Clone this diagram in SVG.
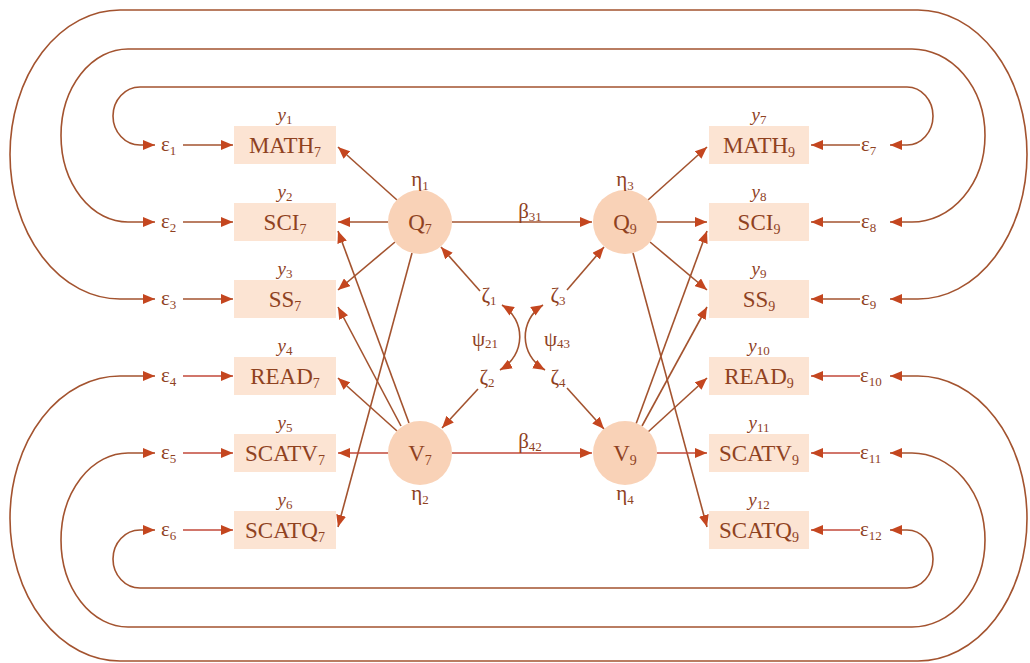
<svg xmlns="http://www.w3.org/2000/svg" width="1030" height="663" viewBox="0 0 1030 663">
<style>
.bg{fill:#ffffff}
.box{fill:#fce4d3}
.lat{fill:#f9d2b7}
.ln{fill:none;stroke:#a3532f;stroke-width:1.6}
.lr{fill:none;stroke:#c2493a;stroke-width:1.6}
.t{font-family:"Liberation Serif",serif;fill:#8f421f}
.lbl{font-size:23px;text-anchor:middle}
.yl{font-size:19px;font-style:italic;text-anchor:middle}
.gr{font-size:21px}
.mid{text-anchor:middle}
.s{font-size:14px;font-style:normal}
.ss{font-size:13px;font-style:normal}
</style>
<defs>
<marker id="ah" viewBox="0 0 12 10" refX="12" refY="5" markerWidth="12" markerHeight="10" markerUnits="userSpaceOnUse" orient="auto-start-reverse">
<path d="M0,0 L12,5 L0,10 Z" fill="#c4461f"/>
</marker>
</defs>
<rect class="bg" width="1030" height="663"/>

<g id="connectors">
<path class="ln" marker-start="url(#ah)" marker-end="url(#ah)" d="M155 145 L140 145 A27 29 0 0 1 140 87 L907 87 A26 29 0 0 1 907 145 L890 145"/>
<path class="ln" marker-start="url(#ah)" marker-end="url(#ah)" d="M155 222 L128 222 A67 86.5 0 0 1 128 49 L912 49 A73 86.5 0 0 1 912 222 L890 222"/>
<path class="ln" marker-start="url(#ah)" marker-end="url(#ah)" d="M155 299 L120 299 A110 144.5 0 0 1 120 10 L918 10 A109 144.5 0 0 1 918 299 L890 299"/>
<path class="ln" marker-start="url(#ah)" marker-end="url(#ah)" d="M155 376 L120 376 A110 142.5 0 0 0 120 661 L918 661 A109 142.5 0 0 0 918 376 L890 376"/>
<path class="ln" marker-start="url(#ah)" marker-end="url(#ah)" d="M155 453 L128 453 A67 87 0 0 0 128 627 L912 627 A73 87 0 0 0 912 453 L890 453"/>
<path class="ln" marker-start="url(#ah)" marker-end="url(#ah)" d="M155 530 L140 530 A27 29 0 0 0 140 588 L907 588 A26 29 0 0 0 907 530 L890 530"/>
<path class="ln" marker-end="url(#ah)" d="M183 145 L233 145"/>
<path class="ln" marker-end="url(#ah)" d="M183 222 L233 222"/>
<path class="ln" marker-end="url(#ah)" d="M183 299 L233 299"/>
<path class="lr" marker-end="url(#ah)" d="M183 376 L233 376"/>
<path class="lr" marker-end="url(#ah)" d="M183 453 L233 453"/>
<path class="lr" marker-end="url(#ah)" d="M183 530 L233 530"/>
<path class="ln" marker-end="url(#ah)" d="M860 145 L811 145"/>
<path class="ln" marker-end="url(#ah)" d="M860 222 L811 222"/>
<path class="ln" marker-end="url(#ah)" d="M860 299 L811 299"/>
<path class="lr" marker-end="url(#ah)" d="M860 376 L811 376"/>
<path class="lr" marker-end="url(#ah)" d="M860 453 L811 453"/>
<path class="lr" marker-end="url(#ah)" d="M860 530 L811 530"/>
<path class="ln" marker-end="url(#ah)" d="M397 200 L338 147"/>
<path class="ln" marker-end="url(#ah)" d="M388 222 L338 222"/>
<path class="ln" marker-end="url(#ah)" d="M395 242 L338 290"/>
<path class="ln" marker-end="url(#ah)" d="M412 253 L338 527"/>
<path class="ln" marker-end="url(#ah)" d="M397 431 L338 378"/>
<path class="lr" marker-end="url(#ah)" d="M388 453 L338 453"/>
<path class="ln" marker-end="url(#ah)" d="M409 423 L338 231"/>
<path class="ln" marker-end="url(#ah)" d="M401 426 L338 307"/>
<path class="ln" marker-end="url(#ah)" d="M648 200 L707 147"/>
<path class="ln" marker-end="url(#ah)" d="M657 222 L707 222"/>
<path class="ln" marker-end="url(#ah)" d="M650 242 L707 290"/>
<path class="ln" marker-end="url(#ah)" d="M633 253 L707 527"/>
<path class="ln" marker-end="url(#ah)" d="M636 424 L707 231"/>
<path class="ln" marker-end="url(#ah)" d="M642 426 L707 307"/>
<path class="ln" marker-end="url(#ah)" d="M648 432 L707 378"/>
<path class="lr" marker-end="url(#ah)" d="M657 453 L707 453"/>
<path class="ln" marker-end="url(#ah)" d="M452 222 L592 222"/>
<path class="lr" marker-end="url(#ah)" d="M452 453 L592 453"/>
<path class="ln" marker-end="url(#ah)" d="M480 291 L441 247"/>
<path class="ln" marker-end="url(#ah)" d="M478 389 L442 428"/>
<path class="ln" marker-end="url(#ah)" d="M567 290 L604 247"/>
<path class="ln" marker-end="url(#ah)" d="M567 388 L604 429"/>
<path class="ln" marker-start="url(#ah)" marker-end="url(#ah)" d="M502 305 C526 320 526 355 500 370"/>
<path class="ln" marker-start="url(#ah)" marker-end="url(#ah)" d="M543 305 C519 320 519 355 545 370"/>
</g>

<g id="y1"><rect class="box" x="234" y="126" width="102" height="38"/><text class="t yl" x="285" y="121">y<tspan class="ss" dy="3">1</tspan></text><text class="t lbl" x="285" y="153">MATH<tspan class="s" dy="4">7</tspan></text></g>
<g id="y2"><rect class="box" x="234" y="203" width="102" height="38"/><text class="t yl" x="285" y="198">y<tspan class="ss" dy="3">2</tspan></text><text class="t lbl" x="285" y="230">SCI<tspan class="s" dy="4">7</tspan></text></g>
<g id="y3"><rect class="box" x="234" y="280" width="102" height="38"/><text class="t yl" x="285" y="275">y<tspan class="ss" dy="3">3</tspan></text><text class="t lbl" x="285" y="307">SS<tspan class="s" dy="4">7</tspan></text></g>
<g id="y4"><rect class="box" x="234" y="357" width="102" height="38"/><text class="t yl" x="285" y="352">y<tspan class="ss" dy="3">4</tspan></text><text class="t lbl" x="285" y="384">READ<tspan class="s" dy="4">7</tspan></text></g>
<g id="y5"><rect class="box" x="234" y="434" width="102" height="38"/><text class="t yl" x="285" y="429">y<tspan class="ss" dy="3">5</tspan></text><text class="t lbl" x="285" y="461">SCATV<tspan class="s" dy="4">7</tspan></text></g>
<g id="y6"><rect class="box" x="234" y="511" width="102" height="38"/><text class="t yl" x="285" y="506">y<tspan class="ss" dy="3">6</tspan></text><text class="t lbl" x="285" y="538">SCATQ<tspan class="s" dy="4">7</tspan></text></g>

<g id="y7"><rect class="box" x="709" y="126" width="100" height="38"/><text class="t yl" x="759" y="121">y<tspan class="ss" dy="3">7</tspan></text><text class="t lbl" x="759" y="153">MATH<tspan class="s" dy="4">9</tspan></text></g>
<g id="y8"><rect class="box" x="709" y="203" width="100" height="38"/><text class="t yl" x="759" y="198">y<tspan class="ss" dy="3">8</tspan></text><text class="t lbl" x="759" y="230">SCI<tspan class="s" dy="4">9</tspan></text></g>
<g id="y9"><rect class="box" x="709" y="280" width="100" height="38"/><text class="t yl" x="759" y="275">y<tspan class="ss" dy="3">9</tspan></text><text class="t lbl" x="759" y="307">SS<tspan class="s" dy="4">9</tspan></text></g>
<g id="y10"><rect class="box" x="709" y="357" width="100" height="38"/><text class="t yl" x="759" y="352">y<tspan class="ss" dy="3">10</tspan></text><text class="t lbl" x="759" y="384">READ<tspan class="s" dy="4">9</tspan></text></g>
<g id="y11"><rect class="box" x="709" y="434" width="100" height="38"/><text class="t yl" x="759" y="429">y<tspan class="ss" dy="3">11</tspan></text><text class="t lbl" x="759" y="461">SCATV<tspan class="s" dy="4">9</tspan></text></g>
<g id="y12"><rect class="box" x="709" y="511" width="100" height="38"/><text class="t yl" x="759" y="506">y<tspan class="ss" dy="3">12</tspan></text><text class="t lbl" x="759" y="538">SCATQ<tspan class="s" dy="4">9</tspan></text></g>

<g id="e1"><text class="t gr" x="161" y="151">ε<tspan class="ss" dy="4">1</tspan></text></g>
<g id="e2"><text class="t gr" x="161" y="228">ε<tspan class="ss" dy="4">2</tspan></text></g>
<g id="e3"><text class="t gr" x="161" y="305">ε<tspan class="ss" dy="4">3</tspan></text></g>
<g id="e4"><text class="t gr" x="161" y="382">ε<tspan class="ss" dy="4">4</tspan></text></g>
<g id="e5"><text class="t gr" x="161" y="459">ε<tspan class="ss" dy="4">5</tspan></text></g>
<g id="e6"><text class="t gr" x="161" y="536">ε<tspan class="ss" dy="4">6</tspan></text></g>
<g id="e7"><text class="t gr" x="861" y="151">ε<tspan class="ss" dy="4">7</tspan></text></g>
<g id="e8"><text class="t gr" x="861" y="228">ε<tspan class="ss" dy="4">8</tspan></text></g>
<g id="e9"><text class="t gr" x="861" y="305">ε<tspan class="ss" dy="4">9</tspan></text></g>
<g id="e10"><text class="t gr" x="860" y="382">ε<tspan class="ss" dy="4">10</tspan></text></g>
<g id="e11"><text class="t gr" x="860" y="459">ε<tspan class="ss" dy="4">11</tspan></text></g>
<g id="e12"><text class="t gr" x="860" y="536">ε<tspan class="ss" dy="4">12</tspan></text></g>

<g id="Q7"><circle class="lat" cx="420" cy="222" r="32"/><text class="t lbl" x="420" y="230">Q<tspan class="s" dy="4">7</tspan></text><text class="t gr mid" x="420" y="186">η<tspan class="ss" dy="4">1</tspan></text></g>
<g id="V7"><circle class="lat" cx="420" cy="453" r="32"/><text class="t lbl" x="420" y="461">V<tspan class="s" dy="4">7</tspan></text><text class="t gr mid" x="420" y="500">η<tspan class="ss" dy="4">2</tspan></text></g>
<g id="Q9"><circle class="lat" cx="625" cy="222" r="32"/><text class="t lbl" x="625" y="230">Q<tspan class="s" dy="4">9</tspan></text><text class="t gr mid" x="625" y="186">η<tspan class="ss" dy="4">3</tspan></text></g>
<g id="V9"><circle class="lat" cx="625" cy="453" r="32"/><text class="t lbl" x="625" y="461">V<tspan class="s" dy="4">9</tspan></text><text class="t gr mid" x="625" y="500">η<tspan class="ss" dy="4">4</tspan></text></g>

<g id="labels">
<text class="t gr mid" x="530" y="218">β<tspan class="ss" dy="3">31</tspan></text>
<text class="t gr mid" x="530" y="448">β<tspan class="ss" dy="3">42</tspan></text>
<text class="t gr mid" x="485" y="346">ψ<tspan class="ss" dy="2">21</tspan></text>
<text class="t gr mid" x="557" y="346">ψ<tspan class="ss" dy="2">43</tspan></text>
</g>
<g id="z1"><text class="t gr mid" x="489" y="302">ζ<tspan class="ss" dy="3">1</tspan></text></g>
<g id="z2"><text class="t gr mid" x="487" y="384">ζ<tspan class="ss" dy="3">2</tspan></text></g>
<g id="z3"><text class="t gr mid" x="558" y="302">ζ<tspan class="ss" dy="3">3</tspan></text></g>
<g id="z4"><text class="t gr mid" x="558" y="384">ζ<tspan class="ss" dy="3">4</tspan></text></g>
</svg>
